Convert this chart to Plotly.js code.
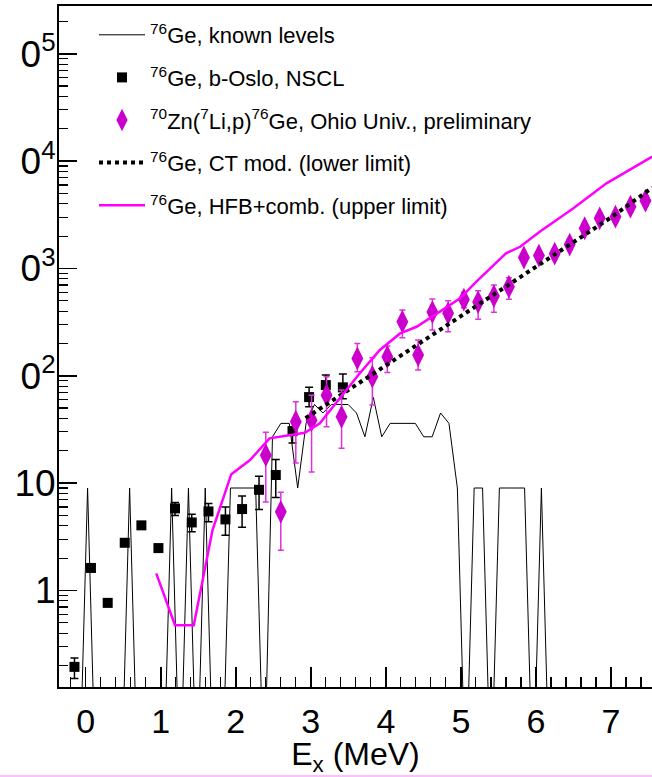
<!DOCTYPE html>
<html>
<head>
<meta charset="utf-8">
<script src="https://cdn.plot.ly/plotly-3.0.1.min.js"></script>
<style>html,body{margin:0;padding:0;background:#fff;}#chart{width:652px;height:777px;}</style>
</head>
<body>
<div id="chart"></div>
<script>
// ---------- data ----------
// Known levels: histogram, bin width and first bin centre (MeV), density per bin (1/MeV)
const levelBinStart = -0.311;
const levelBinWidth = 0.112;
const levelRho = [0,0,0,9,0,0,0,0,9,0,0,0,0,9,0,9,0,9,0,0,
                  9,9,9,9,0,27,36,36,9,36,54,45,54,54,54,45,27,63,27,36,
                  36,36,36,27,27,45,36,9,0,9,9,0,9,9,9,9,0,9,0,0,
                  0,0,0,0,0,0,0,0,0,0,0,0];

// beta-Oslo, NSCL
const osloE   = [-0.15,0.07,0.293,0.52,0.742,0.969,1.19,1.413,1.636,1.862,2.084,2.31,2.533,2.756,2.977,3.2,3.427];
const osloRho = [0.194,1.62,0.766,2.78,4.04,2.48,5.81,4.30,5.45,4.59,5.73,8.66,11.9,30.5,63.3,81.9,78];
const osloHi  = [0.235,1.75,0.83,2.95,4.25,2.68,6.6,5.14,6.47,5.98,7.57,11.6,16.6,33.5,78,101.6,104];
const osloLo  = [0.151,1.50,0.71,2.62,3.85,2.30,5.0,3.52,4.36,3.26,3.87,5.69,7.36,23.6,51.4,66,61];

// 70Zn(7Li,p)76Ge, Ohio Univ.
const ohioE   = [2.40,2.60,2.80,3.01,3.21,3.41,3.62,3.82,4.02,4.22,4.43,4.62,4.83,5.04,5.23,5.44,5.64,5.84,6.04,6.25,6.45,6.65,6.85,7.06,7.26,7.46];
const ohioRho = [18.2,5.40,37.3,38.6,66,41.5,145,98,150,319,156,392,382,513,486,553,675,1264,1318,1371,1670,2367,2931,3034,3758,4275];
const ohioHi  = [29.7,8.24,57.3,66,98,73.6,200,147,189,410,215,519,500,600,619,700,820,1400,1460,1520,1850,2620,3250,3360,4160,4730];
const ohioLo  = [6.65,2.37,15.4,12.7,33.5,21.1,109,53.3,107,226,113,267,257,430,337,390,515,1130,1180,1230,1490,2110,2610,2700,3350,3810];

// CT model (lower limit)
const ctE   = [2.93,3.5,4.0,4.5,5.0,5.5,6.0,6.5,7.0,7.55];
const ctRho = [40.3,73.6,125,212,359,611,1035,1754,2981,5650];

// HFB + combinatorial (upper limit)
const hfbE   = [0.94,1.19,1.44,1.69,1.94,2.19,2.45,2.92,3.12,3.39,3.65,3.92,4.19,4.41,4.72,4.99,5.2,5.43,5.6,5.79,6.05,6.5,6.94,7.55];
const hfbRho = [1.44,0.475,0.475,3.65,12.1,16.4,26.1,29.4,36,61.5,105,174,248,286,395,526,745,1076,1381,1592,2197,3631,6209,10990];

// y tick labels (as they appear, left digit cropped)
const yTickVals = [1,10,100,1000,10000,100000];
const yTickText = ["1","10","0<sup>2</sup>","0<sup>3</sup>","0<sup>4</sup>","0<sup>5</sup>"];

const legendNames = [
  "<sup>76</sup>Ge, known levels",
  "<sup>76</sup>Ge, b-Oslo, NSCL",
  "<sup>70</sup>Zn(<sup>7</sup>Li,p)<sup>76</sup>Ge, Ohio Univ., preliminary",
  "<sup>76</sup>Ge, CT mod. (lower limit)",
  "<sup>76</sup>Ge, HFB+comb. (upper limit)"
];

// ---------- drawing ----------
const FONT = '"Liberation Sans", Arial, Helvetica, sans-serif';
const zeroDraw = 0.012;   // empty bins drawn below the frame, like ROOT
const levelE = levelRho.map((v, i) => levelBinStart + i * levelBinWidth);
const levelDraw = levelRho.map(v => v > 0 ? v : zeroDraw);

const minorVals = [];
for (let d = -1; d <= 5; d++) for (let k = 2; k <= 9; k++) minorVals.push(k * Math.pow(10, d));

const traces = [
  {x: levelE, y: levelDraw, type: 'scatter', mode: 'lines', name: legendNames[0], legendgroup: 'a',
   line: {color: '#000', width: 1}},
  {x: osloE, y: osloRho, type: 'scatter', mode: 'markers', name: legendNames[1], legendgroup: 'b',
   marker: {symbol: 'square', size: 10, color: '#000'},
   error_y: {type: 'data', symmetric: false,
     array: osloHi.map((h, i) => h - osloRho[i]), arrayminus: osloLo.map((l, i) => osloRho[i] - l),
     color: '#000', thickness: 1.5, width: 4}},
  {x: ohioE, y: ohioRho, type: 'scatter', mode: 'markers', name: legendNames[2], legendgroup: 'c',
   marker: {symbol: 'diamond-tall', size: 17, color: '#cc00cc'},
   error_y: {type: 'data', symmetric: false,
     array: ohioHi.map((h, i) => h - ohioRho[i]), arrayminus: ohioLo.map((l, i) => ohioRho[i] - l),
     color: '#dd33dd', thickness: 1.5, width: 3}},
  {x: ctE, y: ctRho, type: 'scatter', mode: 'lines', name: legendNames[3], legendgroup: 'd',
   line: {color: '#000', width: 4, dash: 'dot'}},
  {x: hfbE, y: hfbRho, type: 'scatter', mode: 'lines', name: legendNames[4], legendgroup: 'e',
   line: {color: '#ff00ff', width: 2.5}}
];

const plotL = 59, plotR = 652, plotT = 6, plotB = 687;
const layout = {
  width: 652, height: 777,
  margin: {l: plotL, r: 652 - plotR, t: plotT, b: 777 - plotB, pad: 0},
  paper_bgcolor: '#fff', plot_bgcolor: '#fff',
  font: {family: FONT, color: '#000', size: 22},
  showlegend: true,
  legend: {x: (94 - plotL) / (plotR - plotL), xanchor: 'left', y: 1 - (14 - plotT) / (plotB - plotT), yanchor: 'top',
    bgcolor: 'rgba(0,0,0,0)', borderwidth: 0, font: {family: FONT, size: 22, color: '#000'},
    traceorder: 'grouped', tracegroupgap: 11, itemwidth: 46},
  xaxis: {
    type: 'linear', range: [-0.356, 7.547], autorange: false,
    showline: true, linecolor: '#000', linewidth: 2, mirror: true,
    showgrid: false, zeroline: false,
    tickmode: 'linear', tick0: 0, dtick: 1,
    ticks: 'inside', ticklen: 20, tickwidth: 1.5, tickcolor: '#000',
    minor: {ticks: 'inside', dtick: 0.2, tick0: 0, ticklen: 10, tickwidth: 1.2, tickcolor: '#000', showgrid: false},
    tickfont: {family: FONT, size: 34, color: '#000'},
    ticklabelstandoff: 3,
    title: {text: 'E<sub>x</sub> (MeV)', font: {family: FONT, size: 32, color: '#000'}, standoff: 9}
  },
  yaxis: {
    type: 'log', range: [Math.log10(0.126), 5.445], autorange: false,
    showline: true, linecolor: '#000', linewidth: 2, mirror: false,
    showgrid: false, zeroline: false,
    tickmode: 'array', tickvals: yTickVals, ticktext: yTickText,
    ticks: 'inside', ticklen: 18, tickwidth: 1.5, tickcolor: '#000',
    minor: {tickmode: 'array', tickvals: minorVals, ticks: 'inside', ticklen: 9, tickwidth: 1.2, tickcolor: '#000', showgrid: false},
    tickfont: {family: FONT, size: 37, color: '#000'},
    ticklabelstandoff: -6
  },
  shapes: [
    {type: 'line', xref: 'paper', yref: 'paper', x0: -plotL / (plotR - plotL), x1: 1,
     y0: -(776 - plotB) / (plotB - plotT), y1: -(776 - plotB) / (plotB - plotT),
     line: {color: '#ffaaff', width: 1.5}}
  ]
};

Plotly.newPlot('chart', traces, layout, {displayModeBar: false, staticPlot: true});
</script>
</body>
</html>
